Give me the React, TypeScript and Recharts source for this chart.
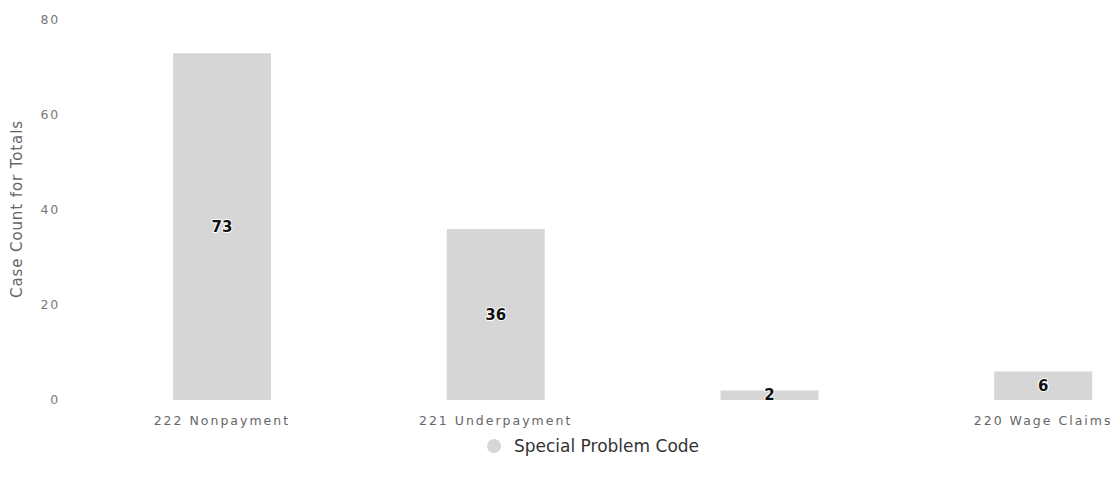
import React from 'react';
import { BarChart, Bar, XAxis, YAxis, Legend, LabelList } from 'recharts';

const categories = ['222 Nonpayment', '221 Underpayment', '', '220 Wage Claims'];
const caseCounts = [73, 36, 2, 6];
const yTicks = [0, 20, 40, 60, 80];
const seriesName = 'Special Problem Code';
const yLabel = 'Case Count for Totals';

const data = categories.map((c, i) => ({ name: c, value: caseCounts[i] }));

const FONT = '"DejaVu Sans", sans-serif';
const BAR_COLOR = '#d6d6d6';

const renderLegend = () => (
  <div style={{ display: 'flex', justifyContent: 'center', alignItems: 'center', fontFamily: FONT }}>
    <svg width={14} height={14} style={{ marginRight: 13 }}>
      <circle cx={7} cy={7} r={7} fill={BAR_COLOR} />
    </svg>
    <span style={{ fontSize: 17, color: '#333' }}>{seriesName}</span>
  </div>
);

const renderValueLabel = (props: any) => {
  const { x, y, width, height, value } = props;
  const cx = x + width / 2;
  const cy = y + height / 2;
  return (
    <text
      x={cx}
      y={cy}
      textAnchor="middle"
      dominantBaseline="central"
      fontFamily={FONT}
      fontSize={15}
      fontWeight="bold"
      fill="#111"
      stroke="#fff"
      strokeWidth={2}
      strokeLinejoin="round"
      style={{ paintOrder: 'stroke' }}
    >
      {value}
    </text>
  );
};

const renderYLabel = () => (
  <text
    x={17}
    y={209}
    transform="rotate(-90 17 209)"
    textAnchor="middle"
    dominantBaseline="central"
    fontFamily={FONT}
    fontSize={15}
    letterSpacing={0.9}
    fill="#666"
  >
    {yLabel}
  </text>
);

export default function App() {
  return (
    <div style={{ position: 'absolute', left: 0, top: 0, width: 1118, height: 487, overflow: 'hidden', background: '#fff' }}>
      <BarChart width={1180} height={487} data={data} margin={{ top: 20, right: 0, left: 0, bottom: 57 }}>
        <XAxis
          dataKey="name"
          axisLine={false}
          tickLine={false}
          tickSize={0}
          tickMargin={16}
          height={30}
          interval={0}
          tick={{ fontFamily: FONT, fontSize: 12.5, fill: '#666', letterSpacing: 2 }}
        />
        <YAxis
          width={85}
          domain={[0, 80]}
          ticks={yTicks}
          axisLine={false}
          tickLine={false}
          tickSize={0}
          tickMargin={25}
          tick={{ fontFamily: FONT, fontSize: 12.5, fill: '#777', letterSpacing: 1.8 }}
          label={{ content: renderYLabel }}
        />
        <Legend
          layout="horizontal"
          verticalAlign="middle"
          align="center"
          content={renderLegend}
          wrapperStyle={{ top: 436, left: 0, width: 1186 }}
        />
        <Bar dataKey="value" name={seriesName} fill={BAR_COLOR} barSize={98} isAnimationActive={false}>
          <LabelList dataKey="value" content={renderValueLabel} />
        </Bar>
      </BarChart>
    </div>
  );
}
